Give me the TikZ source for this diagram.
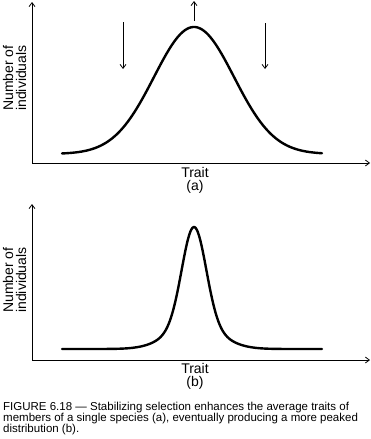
\documentclass[tikz,border=0pt]{standalone}
\usepackage{fontspec}
\setmainfont{Liberation Sans}
\usetikzlibrary{arrows.meta}
\begin{document}
\begin{tikzpicture}[x=1pt,y=-1pt,
  axis/.style={line width=0.8pt,-{Straight Barb[length=4pt,width=6pt]}},
  sel/.style={line width=0.8pt,-{Straight Barb[length=4pt,width=6pt]}},
  curve/.style={line width=2.4pt,line cap=round,line join=round},
  lbl/.style={font=\fontsize{14}{13}\selectfont,inner sep=0pt,align=center},
  captext/.style={font=\fontsize{11.5}{12}\selectfont,inner sep=0pt,anchor=base west}]
\useasboundingbox (0,0) rectangle (371,439);
% ---- panel (a)
\coordinate (oa) at (32,163);
\coordinate (ya) at (32,2);
\coordinate (xa) at (370,163);
\draw[axis] (oa) -- (ya);
\draw[axis] (oa) -- (xa);
\draw[curve] plot[domain=62:322,samples=120] (\x,{154-127*exp(-((\x-194)/40)^2/2)});
\coordinate (l1) at (123,22); \coordinate (l2) at (123,69);
\coordinate (r1) at (265,23); \coordinate (r2) at (265,69);
\coordinate (u1) at (194,21); \coordinate (u2) at (194,1);
\draw[sel] (l1) -- (l2);
\draw[sel] (r1) -- (r2);
\draw[sel] (u1) -- (u2);
\node[lbl,rotate=90] (yla) at (14.5,78) {Number of\\individuals};
\node[lbl] (xla) at (195,180) {Trait\\(a)};
% ---- panel (b)
\coordinate (ob) at (32,360);
\coordinate (yb) at (32,204);
\coordinate (xb) at (370,360);
\draw[axis] (ob) -- (yb);
\draw[axis] (ob) -- (xb);
\draw[curve] plot[domain=62:322,samples=240] (\x,{349-122*(0.8*exp(-((\x-194)/12)^2/2)+0.2*exp(-((\x-194)/25)^2/2))});
\node[lbl,rotate=90] (ylb) at (14.5,280) {Number of\\individuals};
\node[lbl] (xlb) at (195,376) {Trait\\(b)};
% ---- caption
\node[captext] (c1) at (3,410) {FIGURE 6.18 — Stabilizing selection enhances the average traits of};
\node[captext] (c2) at (3,421) {members of a single species (a), eventually producing a more peaked};
\node[captext] (c3) at (3,432) {distribution (b).};
\end{tikzpicture}
\end{document}
